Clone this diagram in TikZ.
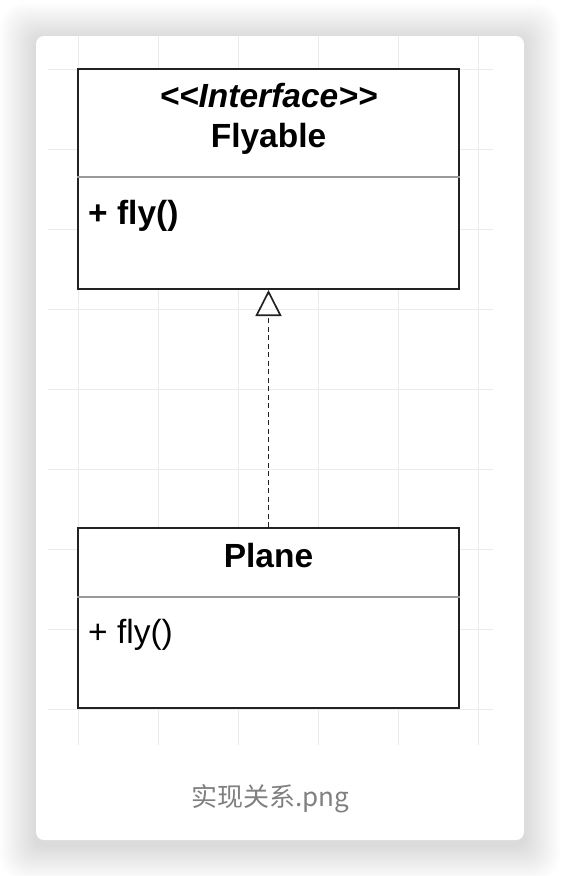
\documentclass[tikz,border=0pt]{standalone}
\usepackage{fontspec}
\setmainfont{Liberation Sans}
\newfontfamily\cjk{Noto Sans CJK SC}
\usetikzlibrary{arrows.meta}
\definecolor{cardshade}{HTML}{000000}
\definecolor{gridgray}{HTML}{EBEBEB}
\definecolor{boxline}{HTML}{222222}
\definecolor{splitgray}{HTML}{9A9A9A}
\definecolor{captiongray}{HTML}{808080}
\newcommand{\umlfont}{\fontsize{33.5}{38}\selectfont}

\begin{document}
\begin{tikzpicture}[
      x=1pt, y=-1pt,
      every node/.style={inner sep=0pt, font=\umlfont, text=black},
      classbox/.style={draw=boxline, line width=2pt, fill=white,
        minimum width=381pt},
      split/.style={draw=splitgray, line width=1.5pt},
      gridline/.style={draw=gridgray, line width=1pt},
      realize/.style={draw=boxline, line width=1.9pt, dash pattern=on 5pt off 3.5pt,
        -{Triangle[open, length=26pt, width=26pt, line width=1.7pt]}}
    ]
      \useasboundingbox (0,0) rectangle (560,876);
      \fill[white] (0,0) rectangle (560,876);
      \foreach \s in {1,...,18}
        \fill[cardshade, opacity=0.009, rounded corners={8+\s}]
          ({36-2*\s},{39-2*\s}) rectangle ({524+2*\s},{845+2*\s});
      \fill[white, rounded corners=8] (36,36) rectangle (524,840);
      \foreach \gx in {78,158,...,478}
        \draw[gridline] (\gx,36) -- (\gx,745);
      \foreach \gy in {69,149,...,709}
        \draw[gridline] (48,\gy) -- (493,\gy);

      \node[classbox, minimum height=220pt] (flyable) at (268.5,179) {};
      \draw[split] (flyable.west |- 0,177) coordinate (fsplitw) -- (flyable.east |- 0,177) coordinate (fsplite);
      \node[anchor=base, font=\umlfont\bfseries\itshape] (stereo) at (268.5,107) {<{}<Interface>{}>};
      \node[anchor=base, font=\umlfont\bfseries] (flyname) at (268.5,147) {Flyable};
      \node[anchor=base west, font=\umlfont\bfseries] (flyop) at (88,224) {+ fly()};

      \node[classbox, minimum height=180pt] (plane) at (268.5,618) {};
      \draw[split] (plane.west |- 0,597) coordinate (psplitw) -- (plane.east |- 0,597) coordinate (psplite);
      \node[anchor=base, font=\umlfont\bfseries] (planename) at (268.5,567) {Plane};
      \node[anchor=base west] (planeop) at (88,643) {+ fly()};

      \draw[realize] (plane.north) -- (flyable.south);

      \node[anchor=base, font=\cjk\fontsize{26}{31}\selectfont, text=captiongray] (caption) at (270,806) {实现关系.png};
    \end{tikzpicture}
\end{document}
